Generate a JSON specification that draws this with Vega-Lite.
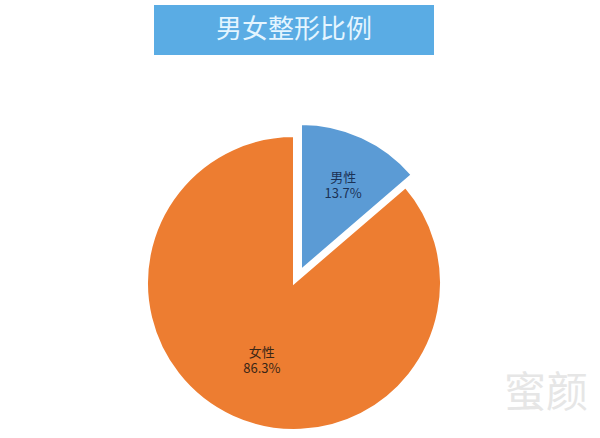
{
  "$schema": "https://vega.github.io/schema/vega-lite/v6.json",
  "padding": {"top": 5, "left": 0, "right": 0, "bottom": 0},
  "background": "white",
  "spacing": 65,
  "center": true,
  "config": {"view": {"stroke": null}, "font": "Noto Sans CJK SC"},
  "vconcat": [
    {
      "width": 280,
      "height": 50,
      "view": {"fill": "#5aace4", "stroke": null},
      "data": {"values": [{"title": "男女整形比例"}]},
      "mark": {"type": "text", "fontSize": 26, "color": "#e4f5ff", "font": "Noto Sans CJK SC"},
      "encoding": {"text": {"field": "title", "type": "nominal"}}
    },
    {
      "width": 588,
      "height": 306,
      "title": {
        "text": "蜜颜",
        "orient": "bottom",
        "anchor": "end",
        "offset": -62,
        "fontSize": 42,
        "fontWeight": "normal",
        "color": "#e6e6e6"
      },
      "data": {
        "values": [
          {"sex": "男性", "value": 13.7, "label": "男性\n13.7%"},
          {"sex": "女性", "value": 86.3, "label": "女性\n86.3%"}
        ]
      },
      "encoding": {
        "theta": {"field": "value", "type": "quantitative", "stack": true},
        "order": {"field": "value", "type": "quantitative", "sort": "ascending"}
      },
      "layer": [
        {
          "mark": {"type": "arc", "outerRadius": 147, "stroke": "white", "strokeWidth": 2},
          "encoding": {
            "color": {
              "field": "sex",
              "type": "nominal",
              "legend": null,
              "scale": {"domain": ["男性", "女性"], "range": ["#5b9bd5", "#ed7d31"]}
            },
            "opacity": {"condition": {"test": "datum.sex === '女性'", "value": 1}, "value": 0}
          }
        },
        {
          "mark": {"type": "arc", "outerRadius": 146, "stroke": "white", "strokeWidth": 2, "xOffset": 7, "yOffset": -13},
          "encoding": {
            "color": {"field": "sex", "type": "nominal", "legend": null},
            "opacity": {"condition": {"test": "datum.sex === '男性'", "value": 1}, "value": 0}
          }
        },
        {
          "mark": {"type": "text", "radius": 77, "fontSize": 13, "lineBreak": "\n", "lineHeight": 16, "color": "#3a2616"},
          "encoding": {
            "text": {"field": "label", "type": "nominal"},
            "opacity": {"condition": {"test": "datum.sex === '女性'", "value": 1}, "value": 0}
          }
        },
        {
          "mark": {"type": "text", "radius": 101, "fontSize": 13, "lineBreak": "\n", "lineHeight": 16, "color": "#1b3256", "xOffset": 7, "yOffset": -13},
          "encoding": {
            "text": {"field": "label", "type": "nominal"},
            "opacity": {"condition": {"test": "datum.sex === '男性'", "value": 1}, "value": 0}
          }
        }
      ]
    }
  ]
}
